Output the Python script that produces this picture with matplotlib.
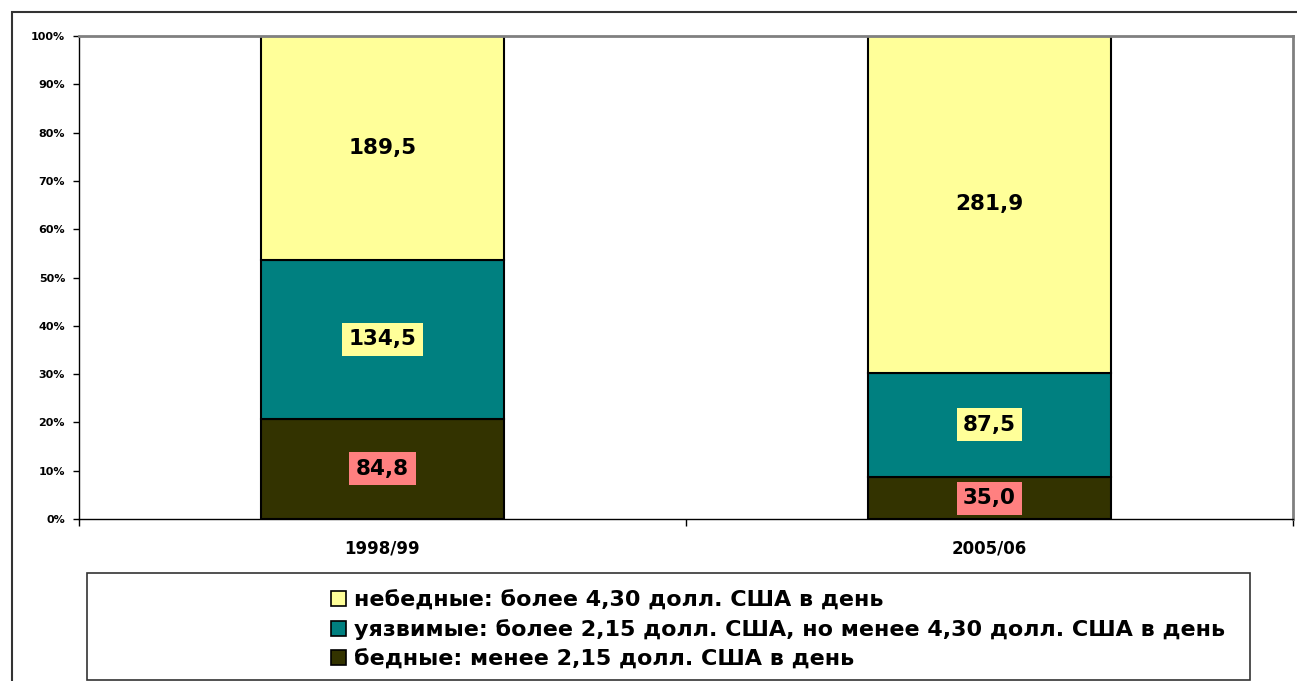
import matplotlib.pyplot as plt
from matplotlib.patches import Rectangle, Patch

plt.rcParams['font.family'] = ['DejaVu Sans']
plt.rcParams['font.weight'] = 'bold'

years = ['1998/99', '2005/06']
poor = [84.8, 35.0]
vulnerable = [134.5, 87.5]
nonpoor = [189.5, 281.9]
labels = ['небедные: более 4,30 долл. США в день',
          'уязвимые: более 2,15 долл. США, но менее 4,30 долл. США в день',
          'бедные: менее 2,15 долл. США в день']
colors = ['#FFFF99', '#008080', '#333300']
box_colors = [None, '#FFFF99', '#FF8080']

fig = plt.figure(figsize=(12.97, 6.81), dpi=100)
W, H = 1297, 681

# outer chart frame
fig.add_artist(Rectangle((12 / W, -0.1), 1.2, 1 - 12 / H + 0.1, transform=fig.transFigure,
                         fill=False, edgecolor='#333333', lw=1.5))

ax = fig.add_axes([79 / W, 1 - 519 / H, (1293 - 79) / W, (519 - 36) / H])

series = [poor, vulnerable, nonpoor]
series_colors = [colors[2], colors[1], colors[0]]
series_labels = [labels[2], labels[1], labels[0]]
series_boxes = [box_colors[2], box_colors[1], box_colors[0]]

totals = [sum(v) for v in zip(*series)]
x = list(range(len(years)))
bottoms = [0.0] * len(years)
for vals, col, lab, bc in zip(series, series_colors, series_labels, series_boxes):
    pct = [v / t * 100 for v, t in zip(vals, totals)]
    ax.bar(x, pct, bottom=bottoms, width=0.4, color=col, edgecolor='black', lw=1.5, label=lab)
    for xi, p, b, v in zip(x, pct, bottoms, vals):
        bbox = None
        if bc:
            bbox = dict(boxstyle='square,pad=0.3', facecolor=bc, edgecolor='none')
        ax.text(xi, b + p / 2, f'{v:.1f}'.replace('.', ','), ha='center', va='center',
                fontsize=15.5, fontweight='bold', bbox=bbox)
    bottoms = [b + p for b, p in zip(bottoms, pct)]

ax.set_xlim(-0.5, 1.5)
ax.set_ylim(0, 100)
ax.set_yticks(range(0, 101, 10))
ax.set_yticklabels([f'{v}%' for v in range(0, 101, 10)], fontsize=8, fontweight='bold')
ax.tick_params(axis='y', direction='out', length=4, width=1, pad=6)
ax.set_xticks([-0.5, 0.5, 1.5])
ax.set_xticklabels(['', '', ''])
ax.tick_params(axis='x', which='major', direction='out', length=5, width=1)
ax.set_xticks(x, minor=True)
ax.set_xticklabels(years, minor=True, fontsize=12, fontweight='bold')
ax.tick_params(axis='x', which='minor', length=0, pad=15)
for s in ['top', 'right']:
    ax.spines[s].set_color('#808080')
    ax.spines[s].set_linewidth(2)
for s in ['left', 'bottom']:
    ax.spines[s].set_color('black')
    ax.spines[s].set_linewidth(1)

# legend box
fig.add_artist(Rectangle((87 / W, 1 - 680 / H), (1250 - 87) / W, (680 - 573) / H,
                         transform=fig.transFigure, fill=False, edgecolor='#333333', lw=1.2))
handles = [Patch(facecolor=c, edgecolor='black', lw=1.2) for c in colors]
fig.legend(handles, labels, loc='upper left', bbox_to_anchor=(320 / W, 1 - 579 / H),
           frameon=False, prop={'size': 16, 'weight': 'bold'}, handlelength=0.65,
           handleheight=0.65, handletextpad=0.4, labelspacing=0.4, borderpad=0)

fig.savefig('out.png', dpi=100)
